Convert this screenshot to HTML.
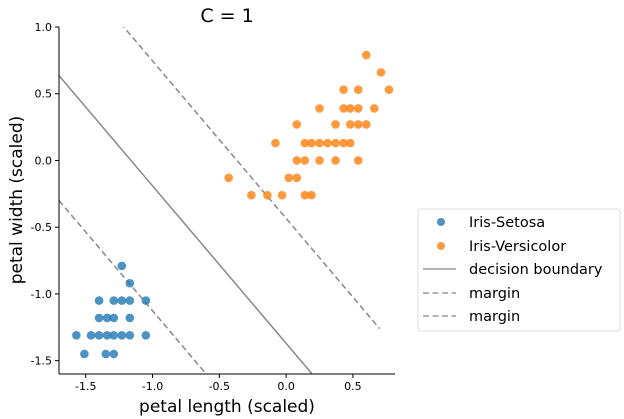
<!DOCTYPE html>
<html><head><meta charset="utf-8"><style>
html,body{margin:0;padding:0;background:#fff;width:624px;height:419px;overflow:hidden}
svg{display:block;font-family:"DejaVu Sans","Liberation Sans",sans-serif}
</style></head><body>
<svg id="chart" width="624" height="419" viewBox="0 0 624 419" xmlns="http://www.w3.org/2000/svg">
<defs><clipPath id="plotclip"><rect x="59" y="27" width="336" height="347"/></clipPath></defs>
<text x="227" y="22" font-size="19" text-anchor="middle" fill="#000">C = 1</text>
<g id="lines" clip-path="url(#plotclip)"></g>
<g id="points"></g>
<g id="axes"></g>
<text x="227" y="412" font-size="17" text-anchor="middle" fill="#000">petal length (scaled)</text>
<text transform="translate(22,200) rotate(-90)" font-size="17" text-anchor="middle" fill="#000">petal width (scaled)</text>
<g>
<rect x="418" y="209" width="202" height="122" rx="3" fill="#fff" stroke="#ddd"/>
<circle cx="441" cy="222" r="4" fill="#1f77b4" opacity="0.8"/>
<text x="469" y="227" font-size="14.5">Iris-Setosa</text>
<circle cx="441" cy="246" r="4" fill="#ff7f0e" opacity="0.8"/>
<text x="469" y="251" font-size="14.5">Iris-Versicolor</text>
<line x1="423" y1="269" x2="456" y2="269" stroke="#999" stroke-width="1.5"/>
<text x="469" y="274" font-size="14.5">decision boundary</text>
<line x1="423" y1="293" x2="456" y2="293" stroke="#999" stroke-width="1.5" stroke-dasharray="6,3.5"/>
<text x="469" y="298" font-size="14.5">margin</text>
<line x1="423" y1="316" x2="456" y2="316" stroke="#999" stroke-width="1.5" stroke-dasharray="6,3.5"/>
<text x="469" y="321" font-size="14.5">margin</text>
</g>
</svg>
<script>
const setosaX=[-1.23,-1.17,-1.40,-1.29,-1.23,-1.17,-1.05,-1.40,-1.34,-1.29,-1.17,-1.57,-1.46,-1.40,-1.34,-1.29,-1.23,-1.17,-1.05,-1.51,-1.35,-1.29];
const setosaY=[-0.79,-0.92,-1.05,-1.05,-1.05,-1.05,-1.05,-1.18,-1.18,-1.18,-1.18,-1.31,-1.31,-1.31,-1.31,-1.31,-1.31,-1.31,-1.31,-1.45,-1.45,-1.45];
const versiX=[0.60,0.71,0.77,0.43,0.54,0.25,0.43,0.48,0.54,0.66,0.08,0.37,0.48,0.54,0.60,-0.08,0.14,0.19,0.25,0.31,0.37,0.43,0.48,0.08,0.14,0.25,0.37,0.54,-0.43,0.02,0.08,-0.26,-0.14,-0.03,0.14,0.19];
const versiY=[0.79,0.66,0.53,0.53,0.53,0.39,0.39,0.39,0.39,0.39,0.27,0.27,0.27,0.27,0.27,0.13,0.13,0.13,0.13,0.13,0.13,0.13,0.13,0.0,0.0,0.0,0.0,0.0,-0.13,-0.13,-0.13,-0.26,-0.26,-0.26,-0.26,-0.26];
const lineSlope=-1.18;
const lineIntercepts=[-1.37,-0.434,-2.306];
const lineRange=[-1.7,0.7];
const xTicks=[-1.5,-1.0,-0.5,0.0,0.5];
const yTicks=[1.0,0.5,0.0,-0.5,-1.0,-1.5];
const NS="http://www.w3.org/2000/svg";
const X0=-1.70,X1=0.815,PX0=59,PX1=395;
const Y0=-1.6,Y1=1.0,PY0=374,PY1=27;
function sx(v){return PX0+(v-X0)/(X1-X0)*(PX1-PX0);}
function sy(v){return PY0-(v-Y0)/(Y1-Y0)*(PY0-PY1);}
function mk(t,a,p){const e=document.createElementNS(NS,t);for(const k in a)e.setAttribute(k,a[k]);p.appendChild(e);return e;}
const lines=document.getElementById('lines');
lineIntercepts.forEach((b,i)=>{
  const l=mk('line',{x1:sx(lineRange[0]),y1:sy(lineSlope*lineRange[0]+b),x2:sx(lineRange[1]),y2:sy(lineSlope*lineRange[1]+b),stroke:'#888','stroke-width':1.5},lines);
  
  
  if(i>0)l.setAttribute('stroke-dasharray','6,3.5');
});
const pts=document.getElementById('points');
setosaX.forEach((x,i)=>{
  const c=mk('circle',{cx:sx(x),cy:sy(setosaY[i]),r:4.3,fill:'#1f77b4','fill-opacity':0.8},pts);
  
  
});
versiX.forEach((x,i)=>{
  const c=mk('circle',{cx:sx(x),cy:sy(versiY[i]),r:4.3,fill:'#ff7f0e','fill-opacity':0.8},pts);
  
  
});
const ax=document.getElementById('axes');
const ys=mk('line',{x1:PX0,y1:PY1,x2:PX0,y2:PY0,stroke:'#000','stroke-width':1},ax);


const xs=mk('line',{x1:PX0,y1:PY0,x2:PX1,y2:PY0,stroke:'#000','stroke-width':1},ax);


xTicks.forEach(t=>{
  mk('line',{x1:sx(t),y1:PY0,x2:sx(t),y2:PY0+4,stroke:'#000'},ax);
  const tx=mk('text',{x:sx(t),y:PY0+16,'font-size':11,'text-anchor':'middle',fill:'#000'},ax);
  tx.textContent=t.toFixed(1);
  
  
});
yTicks.forEach(t=>{
  mk('line',{x1:PX0-4,y1:sy(t),x2:PX0,y2:sy(t),stroke:'#000'},ax);
  const tx=mk('text',{x:PX0-7,y:sy(t)+4,'font-size':11,'text-anchor':'end',fill:'#000'},ax);
  tx.textContent=t.toFixed(1);
  
  
});
</script>
</body></html>
